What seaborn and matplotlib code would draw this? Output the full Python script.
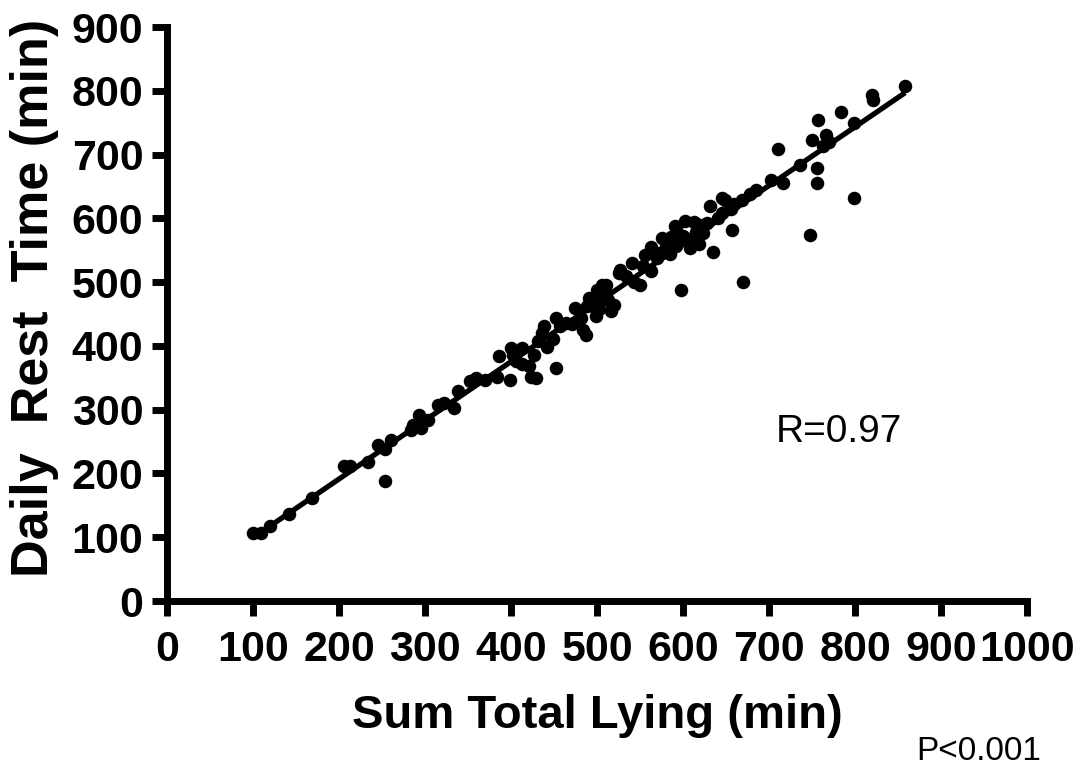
import numpy as np
import pandas as pd
import matplotlib
matplotlib.use("Agg")
import matplotlib.pyplot as plt
import seaborn as sns

sns.set_style("ticks")
plt.rcParams['font.family'] = ['Liberation Sans', 'DejaVu Sans']
for k in ['text.color', 'axes.labelcolor', 'xtick.color', 'ytick.color', 'axes.edgecolor']:
    plt.rcParams[k] = 'black'

# Sum total lying (min)
lying = [100, 109, 120, 142, 169, 206, 213, 233, 245, 253, 253, 260, 283, 286, 293,
         295, 303, 315, 322, 334, 338, 352, 359, 370, 384, 386, 399, 400, 406, 412,
         423, 427, 429, 431, 438, 449, 452, 452, 457, 464, 471, 474, 481, 483, 487,
         490, 495, 499, 500, 503, 506, 509, 512, 516, 519, 527, 533, 540, 543, 550,
         553, 562, 569, 575, 585, 592, 593, 597, 600, 605, 608, 612, 615, 620, 623,
         628, 631, 640, 635, 645, 645, 657, 659, 670, 678, 685, 702, 710, 716, 736,
         750, 747, 755, 755, 757, 762, 766, 769, 783, 798, 799, 819, 821, 858,
         402, 412, 421, 442, 436, 488, 497, 502, 510, 525, 556, 562, 575, 580, 586,
         592, 590, 602, 612, 618, 668, 648, 655, 616]
# Daily rest time (min)
rest = [107, 107, 118, 136, 161, 212, 212, 218, 245, 238, 188, 252, 268, 276, 292,
        271, 284, 307, 310, 302, 329, 345, 350, 346, 351, 384, 346, 397, 376, 397,
        351, 386, 350, 408, 431, 411, 365, 444, 431, 436, 434, 459, 444, 425, 417,
        475, 462, 447, 487, 475, 495, 480, 472, 455, 464, 519, 509, 530, 500, 495,
        525, 517, 538, 569, 544, 556, 566, 487, 572, 563, 553, 594, 578, 589, 577,
        592, 619, 600, 547, 608, 632, 581, 622, 500, 638, 644, 660, 708, 655, 683,
        723, 574, 679, 655, 754, 714, 731, 720, 766, 749, 632, 793, 785, 807,
        385, 372, 368, 398, 420, 462, 470, 458, 496, 515, 542, 555, 548, 562, 570,
        585, 588, 596, 570, 560, 629, 628, 615, 590]

df = pd.DataFrame({"lying": lying, "rest": rest})

fig = plt.figure(figsize=(10.78, 7.72), dpi=100)
ax = fig.add_axes([0.155, 0.2215, 0.798, 0.7435])

sns.regplot(data=df, x="lying", y="rest", ax=ax, ci=None, color="black",
            scatter_kws={"s": 95, "linewidths": 0, "alpha": 1},
            line_kws={"linewidth": 3.8, "solid_capstyle": "butt"})

ax.set_xlim(0, 1000)
ax.set_ylim(0, 900)
ax.set_xticks(np.arange(0, 1001, 100))
ax.set_yticks(np.arange(0, 901, 100))
sns.despine(ax=ax)
for s in ["left", "bottom"]:
    ax.spines[s].set_linewidth(5)
    ax.spines[s].set_clip_on(False)
ax.tick_params(axis="both", length=11, width=5, labelsize=31, direction="out")
ax.tick_params(axis="x", pad=10)
ax.tick_params(axis="y", pad=6)
for lab in ax.get_xticklabels() + ax.get_yticklabels():
    lab.set_fontweight("bold")

ax.set_xlabel("Sum Total Lying (min)", fontsize=34, fontweight="bold", labelpad=17)
ax.set_ylabel("Daily  Rest  Time (min)", fontsize=37.5, fontweight="bold")
ax.yaxis.set_label_coords(-0.126, 0.528)

ax.text(781, 265, "R=0.97", fontsize=28, ha="center", va="center")
fig.text(0.908, 0.026, "P<0.001", fontsize=24, ha="center", va="center",
         family=["Liberation Sans Narrow", "Liberation Sans"])

fig.savefig("out.png", dpi=100, facecolor="white")
